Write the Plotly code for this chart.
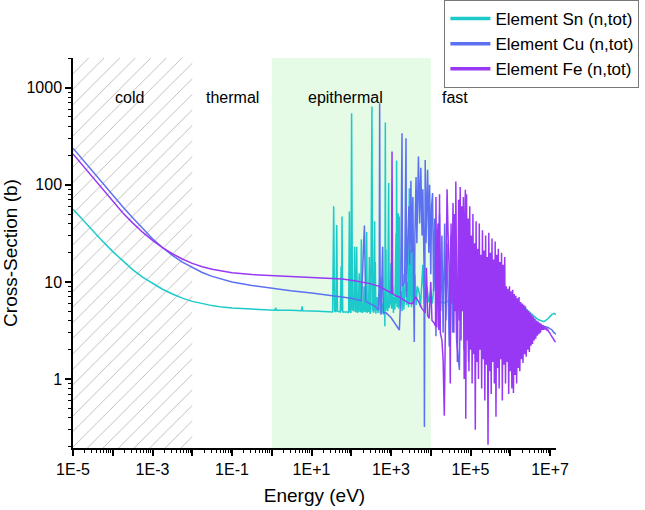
import plotly.graph_objects as go

# ---------------- data ----------------
# Element Sn (n,tot)
sn_energy_ev = [
    1e-5, 1.78e-5, 3.16e-5, 5.62e-5, 1e-4, 1.78e-4, 3.16e-4, 5.62e-4, 1e-3, 1.78e-3,
    3.16e-3, 5.62e-3, 1e-2, 1.78e-2, 3.16e-2, 5.62e-2, 0.1, 0.316, 1.0,
    1.2, 1.25, 1.32, 3.0, 5.6, 5.8, 6.0, 15, 30, 34,
    36.1, 38, 41, 43, 45, 53, 55.5, 57, 58.6, 61, 80, 86, 89.5, 93, 98, 102, 107, 115,
    122, 127, 132, 137, 142, 150, 158, 165, 172, 179.5, 186, 200, 210, 220, 235, 244,
    252, 262, 272, 285, 296, 310, 331, 345, 365, 387, 395, 403, 415, 450, 470, 507,
    530, 560, 590, 620, 660, 690, 700, 719, 735, 748, 760, 800, 830, 871, 900, 950,
    1000, 1040, 1100, 1150, 1200, 1250, 1337, 1360, 1380, 1420, 1480, 1514, 1560,
    1622, 1680, 1800, 1900, 2000, 2100, 2250, 2382, 2450, 2600, 2750, 2884, 2950,
    3050, 3162, 3280, 3467, 3600, 3981, 4300, 4600, 5129, 5500, 6310, 6800, 7943,
    8900, 1.0e4, 1.1e4, 1.259e4, 1.4e4, 1.585e4, 1.8e4, 2.0e4, 3.16e4, 1.0e5,
    3.16e5, 1.0e6, 2.0e6, 3.16e6, 5.0e6, 7.0e6, 9.0e6, 1.1e7, 1.26e7, 1.41e7,
]
sn_sigma_b = [
    56, 43, 33.3, 26, 20.5, 16.4, 13.4, 11.2, 9.6, 8.4,
    7.5, 6.8, 6.3, 5.95, 5.7, 5.5, 5.38, 5.25, 5.15,
    5.12, 5.4, 5.12, 5.1, 5.05, 5.6, 5.05, 5.0, 4.95, 4.9,
    60, 5.0, 4.9, 38.6, 5.0, 4.9, 14.4, 5.0, 47, 4.9, 4.9, 4.8, 53, 5.0, 4.8, 546, 5.2, 5.0,
    23, 4.9, 5.0, 23, 4.8, 5.0, 12.3, 4.9, 5.0, 27.5, 4.8, 5.0, 9, 4.9, 5.0, 32.6,
    4.8, 6.5, 4.9, 18, 4.7, 5.0, 638, 5.2, 4.8, 42, 5.0, 16, 4.7, 7, 4.8, 9.6,
    4.8, 11, 4.7, 6, 4.6, 8, 3.5, 437, 5.0, 21.5, 5.2, 7, 5.0, 104, 5.4, 6,
    15.6, 5.3, 9, 4.8, 7, 5.2, 31.6, 6, 178, 5.5, 6, 51, 5.3,
    47, 5.6, 8, 5.0, 12, 5.2, 9, 14.4, 5.8, 10, 5.5, 92, 6,
    13, 21.5, 5.5, 31.6, 6, 12, 5.8, 9, 7.7, 5.5, 15, 6, 9,
    6.2, 8, 6, 12, 6.3, 7, 6.2, 6.0, 6.5, 6.8,
    7.0, 6.5, 5.7, 4.8, 4.1, 3.9, 4.2, 4.6, 4.75, 4.6,
]

# Element Cu (n,tot)
cu_energy_ev = [
    1e-5, 1.78e-5, 3.16e-5, 5.62e-5, 1e-4, 1.78e-4, 3.16e-4, 5.62e-4, 1e-3, 1.78e-3,
    3.16e-3, 5.62e-3, 1e-2, 1.78e-2, 3.16e-2, 5.62e-2, 0.1, 0.316,
    1, 3, 10, 30, 100, 180, 214, 230, 300, 400, 480, 505, 518, 530, 560, 617,
    640, 748, 1000, 1300, 1622, 1750, 1888, 1950, 2200, 2382, 2450, 2630, 2818, 2950,
    3162, 3311, 3548, 3700, 3846, 3981, 4266, 4467, 4898, 5248, 5623, 6026, 6310, 6761,
    6918, 7244, 7586, 8318, 8913, 9333, 1.0e4, 1.047e4, 1.109e4, 1.175e4, 1.259e4,
    1.349e4, 1.445e4, 1.549e4, 1.660e4, 1.778e4, 1.905e4, 2.042e4, 2.239e4, 2.399e4,
    2.570e4, 2.917e4, 3.162e4, 3.548e4, 3.981e4, 4.467e4, 5.248e4, 5.754e4, 6.310e4,
    6.918e4, 7.943e4, 8.913e4, 1.0e5, 1.122e5, 1.259e5, 1.413e5, 1.585e5, 1.995e5,
    3.162e5, 3.981e5, 6.310e5, 1.0e6, 1.585e6, 2.512e6, 3.981e6, 6.310e6, 8.913e6,
    1.122e7, 1.259e7, 1.413e7,
]
cu_sigma_b = [
    238, 180, 136, 103, 78, 59.5, 45.8, 35.3, 27.8, 22.6,
    18.8, 16.0, 14.0, 12.5, 11.4, 10.6, 10.0, 9.2,
    8.6, 8.1, 7.7, 7.3, 6.8, 6.4, 38, 6.3, 6.0, 5.6, 5.1, 8, 692, 12, 4.6, 23,
    4.8, 4.8, 4.3, 3.7, 3.2, 7, 339, 9, 10, 302, 7, 25, 60, 15,
    110, 20, 75, 8, 2.4, 30, 120, 25, 195, 40, 150, 30, 90, 15,
    0.32, 180, 25, 143, 20, 100, 12, 60, 82, 8, 45,
    2.75, 35, 8, 50, 5, 30, 3, 40, 4,
    25, 2.16, 30, 3, 28, 2.5, 1.24, 25, 35,
    2, 20, 1.5, 18, 2, 15, 3, 12, 10,
    3, 8, 4, 5, 4.5, 4.0, 3.7, 3.5, 3.4,
    3.2, 3.0, 2.9,
]

# Element Fe (n,tot) - smooth part and resolved resonances
fe_energy_low_ev = [
    1e-5, 1.78e-5, 3.16e-5, 5.62e-5, 1e-4, 1.78e-4, 3.16e-4, 5.62e-4, 1e-3, 1.78e-3,
    3.16e-3, 5.62e-3, 1e-2, 1.78e-2, 3.16e-2, 5.62e-2, 0.1, 0.316,
    1, 3, 10, 30, 60, 100, 200, 300, 500, 700, 900, 1020, 1060, 1100, 1300,
    1600, 2000, 2500, 2884, 3467, 4169, 5012, 6026, 7244, 7762, 8318, 9120, 1.0e4,
    1.072e4, 1.202e4, 1.318e4, 1.349e4, 1.413e4, 1.514e4, 1.585e4, 1.660e4, 1.738e4,
    1.905e4, 2.042e4, 2.188e4, 2.344e4, 2.570e4, 2.754e4, 2.951e4, 3.090e4, 3.236e4,
    3.388e4, 3.631e4, 3.802e4, 3.981e4, 4.169e4, 4.266e4, 4.467e4, 4.677e4, 5.012e4,
    5.248e4, 5.495e4, 5.754e4, 6.026e4, 6.310e4, 6.607e4, 6.918e4, 7.244e4, 7.413e4,
    7.586e4,
]
fe_sigma_low_b = [
    208, 157, 118, 89, 67.5, 51.5, 40.5, 32.5, 26.8, 22.5,
    19.5, 17.2, 15.5, 14.3, 13.5, 12.9, 12.4, 11.9,
    11.6, 11.4, 11.1, 10.9, 10.7, 10.4, 10.0, 9.6, 9.0, 8.4, 8.0, 7.7, 220, 7.6, 7.2,
    7.0, 6.6, 6.3, 6.0, 6.0, 7.0, 6.2, 5.3, 4.8, 14, 4.5, 4.2, 10,
    4.0, 3.8, 3.5, 75, 3.4, 40, 3.2, 80, 3.0,
    2.5, 1.6, 0.42, 3, 90, 25, 12, 0.9, 40,
    6, 65, 3, 50, 5, 108, 8, 1.5, 70,
    4, 95, 2.5, 60, 5, 75, 1.0, 50, 89,
    0.39,
]
# Element Fe (n,tot) - dense fast-neutron band
fe_energy_fast_ev = [
    7.94e4, 8.32e4, 8.71e4, 9.12e4, 9.55e4,
    1.000e5, 1.047e5, 1.096e5, 1.148e5, 1.202e5, 1.259e5, 1.318e5, 1.380e5, 1.445e5, 1.514e5,
    1.585e5, 1.660e5, 1.738e5, 1.820e5, 1.905e5, 1.995e5, 2.089e5, 2.188e5, 2.291e5, 2.399e5,
    2.512e5, 2.630e5, 2.754e5, 2.884e5, 3.020e5, 3.162e5, 3.311e5, 3.467e5, 3.631e5, 3.802e5,
    3.981e5, 4.169e5, 4.365e5, 4.571e5, 4.786e5, 5.012e5, 5.248e5, 5.495e5, 5.754e5, 6.026e5,
    6.310e5, 6.607e5, 6.918e5, 7.244e5, 7.586e5, 7.943e5, 8.318e5, 8.710e5, 9.120e5, 9.550e5,
    1.000e6, 1.047e6, 1.096e6, 1.148e6, 1.202e6, 1.259e6, 1.318e6, 1.380e6, 1.445e6, 1.514e6,
    1.585e6, 1.660e6, 1.738e6, 1.820e6, 1.905e6, 1.995e6, 2.089e6, 2.188e6, 2.291e6, 2.399e6,
    2.512e6, 2.630e6, 2.754e6, 2.884e6, 3.020e6, 3.162e6, 3.311e6, 3.467e6, 3.631e6, 3.802e6,
    3.981e6, 4.169e6, 4.365e6, 4.571e6, 4.786e6, 5.012e6, 5.248e6, 5.495e6, 5.754e6, 6.026e6,
    6.310e6, 6.607e6, 6.918e6, 7.244e6, 7.586e6, 7.943e6, 8.318e6, 8.710e6, 9.120e6, 9.550e6,
    1.000e7, 1.047e7, 1.096e7, 1.148e7, 1.202e7, 1.259e7, 1.318e7, 1.380e7,
]
fe_sigma_fast_b = [
    80, 2.5, 45, 1.2, 60,
    2.0, 30, 0.9, 50, 1.8, 25, 0.3, 42, 1.5, 22,
    1.0, 40, 2.0, 19, 0.8, 34, 1.6, 21, 0.6, 30,
    1.4, 18, 0.21, 32, 1.2, 20, 0.7, 28, 1.5, 17,
    0.9, 26, 0.41, 19, 1.3, 22, 0.8, 16, 1.6, 20,
    0.6, 15, 1.4, 18, 0.9, 9, 1.5, 8.5, 0.7, 9,
    1.2, 8, 0.8, 8.3, 0.72, 7.5, 1.1, 7.2, 0.9, 6.8,
    1.3, 7, 1.2, 6.2, 1.6, 6.0, 1.46, 5.8, 1.8, 5.6,
    1.7, 5.2, 2.0, 5.0, 1.9, 4.8, 2.2, 4.6, 2.3, 4.4,
    2.5, 4.2, 2.6, 4.0, 2.8, 3.9, 2.9, 3.8, 3.0, 3.7,
    3.2, 3.6, 3.2, 3.5, 3.25, 3.35, 3.2, 3.25, 3.1, 3.05,
    2.95, 2.85, 2.75, 2.65, 2.6, 2.5, 2.45, 2.4,
]

series_names = ["Element Sn (n,tot)", "Element Cu (n,tot)", "Element Fe (n,tot)"]
series_colors = ["#1ccaca", "#5c70f2", "#9838f5"]

# neutron energy bands (eV)
cold_band_ev = [1e-5, 1e-2]
epithermal_band_ev = [1.0, 1e4]
band_labels = ["cold", "thermal", "epithermal", "fast"]
band_label_log_e = [-3.58, -1.0, 1.85, 4.6]

x_tick_vals = [10.0 ** k for k in range(-5, 8)]
x_tick_text = ["1E%+d" % k if (k + 5) % 2 == 0 else "" for k in range(-5, 8)]
y_tick_vals = [1, 10, 100, 1000]
y_tick_text = ["1", "10", "100", "1000"]

x_log_range = [-5, 7.15]
y_log_range = [-0.71, 3.305]

# ---------------- figure ----------------
FONT = "Liberation Sans, Arial, sans-serif"
fig = go.Figure()

y_lo = 10 ** y_log_range[0]
y_hi = 10 ** y_log_range[1]
fig.add_trace(go.Scatter(
    x=[cold_band_ev[0], cold_band_ev[1], cold_band_ev[1], cold_band_ev[0], cold_band_ev[0]],
    y=[y_lo, y_lo, y_hi, y_hi, y_lo],
    mode="lines", fill="toself", fillcolor="rgba(255,255,255,0)",
    fillpattern=dict(shape="/", fgcolor="#787878", bgcolor="rgba(255,255,255,0)",
                     size=11, solidity=0.085),
    line=dict(width=0), hoverinfo="skip", showlegend=False,
))

fe_energy = fe_energy_low_ev + fe_energy_fast_ev
fe_sigma = fe_sigma_low_b + fe_sigma_fast_b
all_x = [sn_energy_ev, cu_energy_ev, fe_energy]
all_y = [sn_sigma_b, cu_sigma_b, fe_sigma]
for xs, ys, name, col in zip(all_x, all_y, series_names, series_colors):
    fig.add_trace(go.Scatter(x=xs, y=ys, mode="lines", name=name,
                             line=dict(color=col, width=1.5), showlegend=False))
for name, col in zip(series_names, series_colors):
    fig.add_trace(go.Scatter(x=[None], y=[None], mode="lines", name=name,
                             line=dict(color=col, width=3.5), showlegend=True))

fig.add_shape(type="rect", xref="x", yref="paper",
              x0=epithermal_band_ev[0], x1=epithermal_band_ev[1], y0=0, y1=1,
              fillcolor="#e5fbe5", line=dict(width=0), layer="below")

for lab, lx in zip(band_labels, band_label_log_e):
    fig.add_annotation(x=lx, y=0.925, xref="x", yref="paper", text=lab,
                       showarrow=False, font=dict(family=FONT, size=16, color="black"))

minor_x = [m * 10.0 ** k for k in range(-5, 8) for m in range(2, 10)]
minor_y = [m * 10.0 ** k for k in range(-1, 4) for m in range(2, 10)]

fig.update_xaxes(type="log", range=x_log_range, showgrid=False, zeroline=False,
                 automargin=False,
                 showline=True, linecolor="black", linewidth=1.5,
                 ticks="outside", ticklen=6, tickwidth=1.5, tickcolor="black",
                 tickmode="array", tickvals=x_tick_vals, ticktext=x_tick_text,
                 tickfont=dict(family=FONT, size=16, color="black"),
                 minor=dict(tickmode="array", tickvals=minor_x, ticklen=3,
                            tickwidth=1, tickcolor="black", ticks="outside"),
                 title=dict(text="Energy (eV)", font=dict(family=FONT, size=19, color="black"),
                            standoff=12))
fig.update_yaxes(type="log", range=y_log_range, showgrid=False, zeroline=False,
                 automargin=False,
                 showline=True, linecolor="black", linewidth=1.5,
                 ticks="outside", ticklen=6, tickwidth=1.5, tickcolor="black",
                 tickmode="array", tickvals=y_tick_vals, ticktext=y_tick_text,
                 tickfont=dict(family=FONT, size=16, color="black"),
                 minor=dict(tickmode="array", tickvals=minor_y, ticklen=3,
                            tickwidth=1, tickcolor="black", ticks="outside"),
                 title=dict(text="Cross-Section (b)", font=dict(family=FONT, size=19, color="black"),
                            standoff=6))

fig.update_layout(
    width=645, height=510,
    margin=dict(l=73, r=89, t=58, b=62, autoexpand=False),
    plot_bgcolor="white", paper_bgcolor="white",
    font=dict(family=FONT, color="black"),
    legend=dict(xref="container", yref="container", x=0.689, y=1.0,
                xanchor="left", yanchor="top",
                bordercolor="#777777", borderwidth=1, bgcolor="white",
                font=dict(family=FONT, size=17, color="black"),
                tracegroupgap=0, itemwidth=40),
    showlegend=True,
)

fig.write_html("out.html")
